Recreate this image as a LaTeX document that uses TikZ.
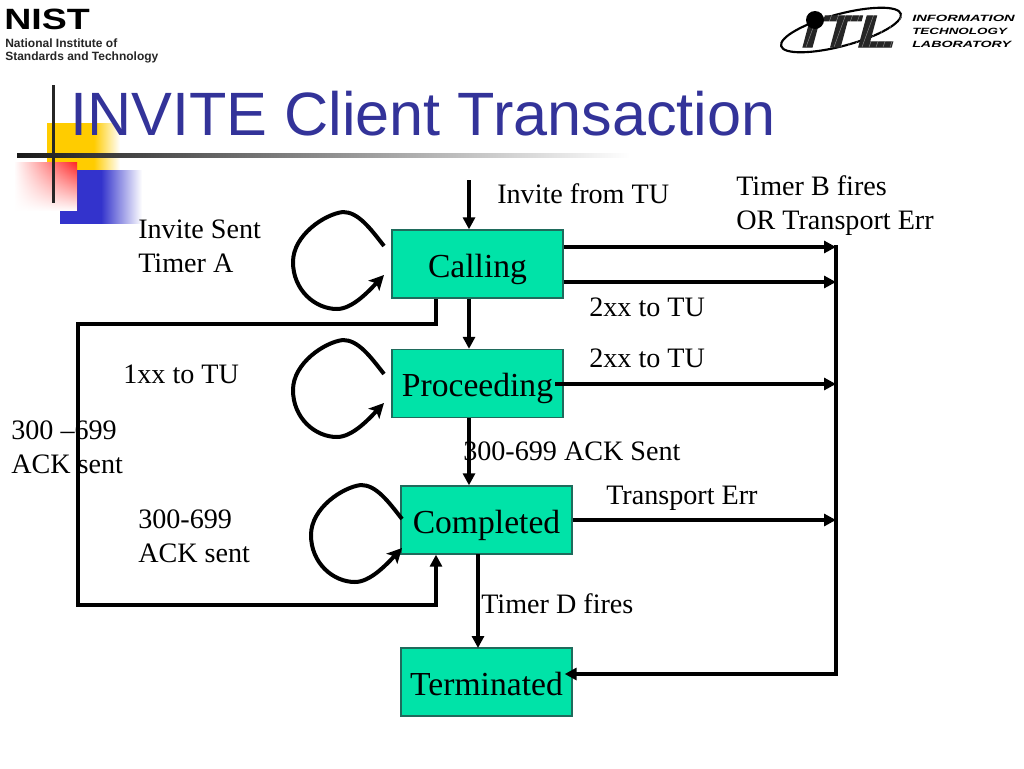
\documentclass[tikz,border=0pt]{standalone}
\usepackage{fontspec}
\setmainfont{Liberation Serif}
\newfontfamily\sansf{Liberation Sans}
\newfontfamily\itlf[FakeBold=2.5]{Liberation Sans Bold Italic}
\usetikzlibrary{arrows.meta,fadings}
\definecolor{statefill}{HTML}{00E3A8}
\definecolor{stateedge}{HTML}{1F6B5C}
\definecolor{titleblue}{HTML}{333399}
\definecolor{decoyellow}{HTML}{FFCC00}
\definecolor{decoblue}{HTML}{3333CC}
\definecolor{decored}{HTML}{FF2222}
\pgfdeclarehorizontalshading{yellowfade}{100bp}{color(0bp)=(decoyellow);color(57bp)=(decoyellow);color(75bp)=(white);color(100bp)=(white)}
\pgfdeclarehorizontalshading{bluefade}{100bp}{color(0bp)=(decoblue);color(50bp)=(decoblue);color(75bp)=(white);color(100bp)=(white)}
\tikzset{
  state/.style={draw=stateedge,line width=1pt,fill=statefill,minimum width=128.25pt,minimum height=51pt,inner sep=0pt,text height=21pt,text depth=1.2pt,font=\fontsize{25.2}{30}\selectfont},
  conn/.style={line width=3pt,-{Triangle[length=9pt,width=9pt]}},
  plainconn/.style={line width=3pt},
  lbl/.style={anchor=base west,inner sep=0pt,font=\fontsize{21.1}{25}\selectfont},
  loopline/.style={line width=3pt,line join=round},
  itltext/.style={anchor=base west,inner sep=0pt,font=\sansf\bfseries\itshape\fontsize{6.8}{8}\selectfont},
  nisttext/.style={anchor=base west,inner sep=0pt,font=\sansf\bfseries\fontsize{9}{10}\selectfont,text=black!85},
}
\begin{document}
\begin{tikzpicture}[x=0.75pt,y=-0.75pt]
\useasboundingbox (0,0) rectangle (1024,768);
\fill[white] (0,0) rectangle (1024,768);
% decoration
\shade[shading=yellowfade] (47,123) rectangle (120,170);
\shade[shading=bluefade] (60,170) rectangle (142,223);
\shade[left color=white,right color=decored] (14,162) rectangle (77,210);
\fill[white,path fading=north] (14,162) rectangle (77.5,211);
\fill[black!85] (51.5,85) rectangle (55,203);
\shade[left color=black!90,right color=white] (17,153) rectangle (630,157.5);
% title
\node[anchor=base west,inner sep=0pt,text=titleblue,font=\sansf\fontsize{45.9}{50}\selectfont] (title) at (70,135) {INVITE Client Transaction};
% NIST logo
\node[anchor=base west,inner sep=0pt,font=\sansf\bfseries\fontsize{22}{22}\selectfont] (nist) at (4,29) {\scalebox{1.28}[1]{NIST}};
\node[nisttext] (nist1) at (5,47) {National Institute of};
\node[nisttext] (nist2) at (5,60) {Standards and Technology};
% ITL logo
\draw[line width=1.6pt,rotate around={15:(841,30)}] (841,30) ellipse (62 and 16);
\node[anchor=base west,inner sep=0pt,text=black!85,font=\itlf\fontsize{34}{34}\selectfont] (itl) at (802,47) {\scalebox{1.38}[1]{iTL}};
\foreach \sx in {806,813,...,890}{
  \draw[white,line width=0.35pt,opacity=.45] (\sx,47) -- (\sx+12,14);
}
\fill (815,20) circle (9);
\node[itltext] (itl1) at (912,21) {\scalebox{1.62}[1]{INFORMATION}};
\node[itltext] (itl2) at (912,34) {\scalebox{1.48}[1]{TECHNOLOGY}};
\node[itltext] (itl3) at (912,47) {\scalebox{1.57}[1]{LABORATORY}};
% states
\node[state] (calling) at (477.5,264) {Calling};
\node[state] (proceeding) at (477.5,383.5) {Proceeding};
\node[state] (completed) at (486.5,520) {Completed};
\node[state] (terminated) at (486.5,682) {Terminated};
% free ends
\coordinate (tuin) at (469,180);
\coordinate (busA) at (836,247);
\coordinate (busB) at (836,282);
\coordinate (busC) at (836,384);
\coordinate (busD) at (836,520);
\coordinate (busE) at (836,674);
\coordinate (leftT) at (78,324);
\coordinate (leftB) at (78,605);
\coordinate (dropX) at (436,324);
% connectors
\draw[conn] (tuin) -- (tuin |- calling.north);
\draw[conn] (calling.east |- busA) -- (busA);
\draw[conn] (calling.east |- busB) -- (busB);
\draw[plainconn,line cap=rect] (busA) -- (busE);
\draw[conn] (busE) -- ([xshift=-6pt]terminated.east |- busE);
\draw[conn,line join=miter] (dropX |- calling.south) -- (dropX) -- (leftT) -- (leftB) -- (dropX |- leftB) -- (dropX |- completed.south);
\draw[conn] (tuin |- calling.south) -- (tuin |- proceeding.north);
\draw[conn] (555,384) -- (busC);
\draw[conn] (tuin |- proceeding.south) -- (tuin |- completed.north);
\draw[conn] (completed.east |- busD) -- (busD);
\draw[conn] (478,554) -- (478,648);
% self loops
\foreach \dx/\dy in {0/0,0/128,18/273}{
  \begin{scope}[shift={(\dx*0.75pt,-\dy*0.75pt)}]
  \draw[loopline,-{Stealth[length=11pt,width=11pt,inset=2.5pt]}] (384,246) .. controls (370,228) and (358,212) .. (343,212) .. controls (325,214) and (293,235) .. (293,262) .. controls (293,290) and (315,309) .. (337,309) .. controls (352,309) and (368,292) .. (384,275);
  \end{scope}
}
% labels
\node[lbl] (l1) at (497,203) {Invite from TU};
\node[lbl] (l2) at (736,195) {Timer B fires};
\node[lbl] (l3) at (736,229) {OR Transport Err};
\node[lbl] (l4) at (138,238) {Invite Sent};
\node[lbl] (l5) at (138,272) {Timer A};
\node[lbl] (l6) at (589,316) {2xx to TU};
\node[lbl] (l7) at (589,367) {2xx to TU};
\node[lbl] (l8) at (123,383) {1xx to TU};
\node[lbl] (l9) at (11,439) {300 –699};
\node[lbl] (l10) at (11,473) {ACK sent};
\node[lbl] (l11) at (463,460) {300-699 ACK Sent};
\node[lbl] (l12) at (606,504) {Transport Err};
\node[lbl] (l13) at (138,528) {300-699};
\node[lbl] (l14) at (138,562) {ACK sent};
\node[lbl] (l15) at (481,613) {Timer D fires};
\end{tikzpicture}
\end{document}
